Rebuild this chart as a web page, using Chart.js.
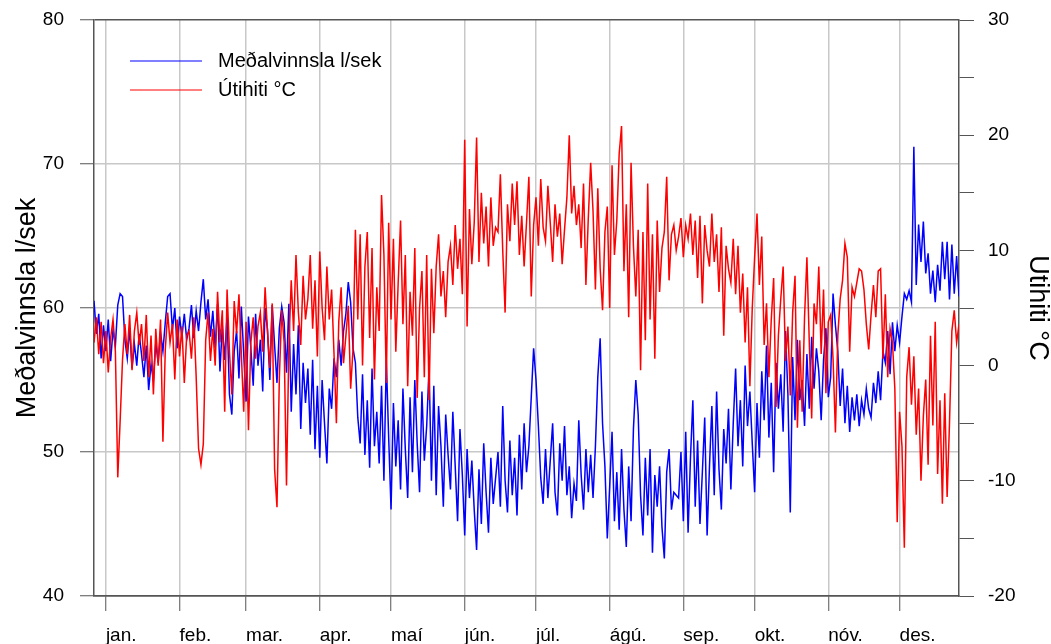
<!DOCTYPE html>
<html>
<head>
<meta charset="utf-8">
<script src="https://cdn.jsdelivr.net/npm/chart.js@4.4.1/dist/chart.umd.min.js"></script>
<style>
  body { margin: 0; background: #fff; }
  #wrap { width: 1051px; height: 644px; }
</style>
</head>
<body>
<div id="wrap"><canvas id="chart" width="1051" height="644"></canvas></div>
<script>
// day numbers (day 0 = 1. jan), one value per day
let firstDay = -5;

let monthStarts = [0, 31, 59, 90, 120, 151, 181, 212, 243, 273, 304, 334];
let monthLabels = ["jan.", "feb.", "mar.", "apr.", "maí", "jún.", "júl.", "ágú.", "sep.", "okt.", "nóv.", "des."];

// Meðalvinnsla l/sek
let flowLps = [
  60.5, 58.2, 59.6, 56.5, 58.8, 57.0, 59.2, 56.3, 58.5, 57.4,
  60.2, 61.0, 60.8, 57.8, 56.5, 58.6, 55.8, 57.5, 56.0, 58.2,
  56.8, 55.2, 57.4, 54.3, 56.1, 55.0, 57.6, 56.2, 58.3, 57.0,
  59.0, 60.8, 61.0, 58.5, 60.0, 57.2, 59.4, 58.0, 59.6, 57.8,
  58.6, 60.2, 57.9, 59.8, 58.4, 60.4, 62.0, 59.2, 60.6, 58.0,
  59.8, 57.2, 60.3, 55.6, 58.8, 56.4, 59.5, 54.0, 52.6, 57.0,
  58.4, 55.1, 60.1, 56.8, 53.5, 59.4, 57.2, 54.6, 59.6, 56.0,
  57.8, 54.2, 60.0, 58.5, 55.0, 60.2, 57.4, 54.8, 58.6, 60.1,
  59.0, 55.5, 60.3, 52.8, 57.5, 54.0, 58.8, 51.6, 56.2, 53.4,
  55.8, 51.2, 56.4, 50.2, 54.6, 49.6, 55.0, 52.0, 49.2, 54.4,
  53.0, 56.5, 55.2, 57.8, 56.0, 58.4, 59.6, 61.8, 60.4, 57.2,
  56.2, 52.4, 50.6, 55.4, 49.8, 53.6, 48.9, 55.8, 50.4, 52.8,
  49.2, 54.6, 48.0, 56.4, 51.0, 46.0, 53.4, 49.0, 52.2, 47.4,
  54.4, 50.2, 46.8, 53.8, 48.6, 55.0, 50.6, 47.2, 54.2, 49.4,
  51.8, 55.9, 48.0, 54.6, 47.0, 53.2, 50.4, 46.2, 52.6, 49.8,
  47.4, 52.8, 49.0, 45.2, 51.6, 48.4, 44.2, 50.2, 46.8, 49.4,
  46.0, 43.2, 48.8, 45.0, 50.6, 47.2, 44.4, 49.6, 46.4, 48.2,
  50.0, 46.2, 53.2, 48.0, 45.8, 50.8, 47.0, 49.6, 45.6, 51.2,
  47.4, 52.0, 48.6, 50.4, 53.8, 57.2, 55.0, 51.8, 48.2, 46.4,
  50.2, 46.8, 49.4, 52.0, 47.2, 45.6, 50.6, 48.0, 51.8, 47.0,
  49.0, 45.4, 47.8, 46.6, 52.2, 48.4, 46.0, 50.2, 47.2, 49.8,
  46.8, 50.4, 55.2, 57.9, 52.0, 49.0, 44.0, 47.6, 51.4, 45.2,
  48.6, 44.6, 50.2, 46.0, 43.4, 49.0, 45.2, 51.6, 55.0, 52.6,
  47.0, 44.2, 49.6, 45.6, 50.2, 43.0, 48.4, 46.2, 49.0, 44.8,
  42.6, 48.6, 50.2, 46.0, 47.2, 47.0, 46.8, 50.0, 45.2, 51.4,
  44.4, 49.6, 53.6, 46.2, 50.8, 45.0, 48.6, 52.4, 44.2, 49.0,
  53.2, 47.0, 54.2, 48.8, 46.0, 51.6, 49.2, 53.0, 47.4, 52.0,
  55.8, 50.4, 53.6, 49.0, 56.0, 51.8, 54.2, 50.6, 47.2, 53.4,
  49.6, 55.6, 52.2, 57.4, 51.0, 54.8, 48.6, 56.2, 53.0, 55.4,
  51.4, 58.4, 54.0, 45.8, 56.6, 52.2, 57.8, 53.6, 55.0, 51.8,
  56.8, 53.0, 58.0, 54.4, 57.2, 55.6, 52.2, 56.4, 58.6, 53.8,
  55.2, 61.0, 58.8, 57.0, 53.2, 55.8, 52.0, 54.6, 51.4, 53.8,
  52.2, 54.0, 51.8, 53.6, 52.6, 54.4, 53.0, 52.4, 54.8, 53.4,
  55.6, 53.6, 57.0, 56.2, 58.4, 55.4, 59.0, 57.0, 58.8, 57.6,
  59.4, 61.0, 60.6, 61.2, 60.4, 71.2, 61.6, 65.8, 63.2, 66.0,
  62.4, 63.8, 61.0, 62.6, 60.4, 63.0, 61.2, 64.6, 62.0, 64.6,
  60.6, 64.4, 61.0, 63.6, 60.8
];

// Útihiti °C
let outdoorTemp = [
  2.0, 4.2, 1.0, 3.8, 0.2, 3.0, -0.6, 2.4, 4.0, 1.2,
  -9.7, -4.8, 0.5, 3.6, 1.0, 4.4, -0.4, 3.0, 4.6, 1.8,
  3.6, 0.4, 4.4, -1.0, 2.6, -2.5, 3.2, 0.0, 4.0, -6.6,
  1.4, 4.6, 2.0, 3.6, -1.2, 4.0, 0.8, 3.4, -1.5, 2.6,
  3.0, 0.6, 4.2, -1.0, -7.2, -8.6, -6.8, 2.2, 4.6, 0.4,
  3.2, 0.0, 6.4, 2.0, 4.8, -4.0, 6.6, 1.2, -2.5, 5.6,
  2.8, 6.2, 1.0, -4.0, 3.8, -5.6, 2.0, 4.2, 0.6, 3.4,
  4.6, 1.2, 6.8, 3.0, -0.2, 5.4, -9.0, -12.3, -1.0, 4.8,
  2.0, -10.4, 1.6, 7.4, 3.0, 9.6, 4.6, 1.8, 7.8, 4.0,
  5.8, 9.6, 3.2, 7.4, 0.8, 9.9, 5.0, 2.2, 8.6, 4.0,
  6.6, 1.0, -5.0, 3.8, 6.8, 0.2, 2.6, 5.2, -2.0, 1.4,
  11.8, 4.0, 11.4, 0.0, 8.6, 11.6, 2.4, 10.2, -1.2, 6.8,
  3.0, 14.8, 9.6, -1.5, 12.4, 4.0, 11.0, 1.2, 7.2, 12.6,
  3.6, 9.6, -1.8, 6.4, 2.6, 10.2, -2.8, 5.0, 8.2, -1.0,
  9.6, -3.0, 8.4, 2.8, 8.6, 11.4, 6.0, 8.2, 4.2, 9.0,
  10.4, 7.0, 12.2, 8.4, 11.0, 6.2, 19.6, 3.4, 13.6, 8.8,
  12.4, 19.8, 9.0, 15.0, 10.6, 13.8, 8.6, 14.6, 10.4, 12.0,
  11.6, 16.6, 10.0, 4.6, 14.0, 10.8, 15.8, 12.2, 16.0, 9.6,
  13.0, 8.6, 12.4, 16.4, 6.0, 12.2, 14.6, 10.4, 16.2, 12.0,
  10.8, 15.6, 12.4, 9.0, 14.0, 11.2, 13.2, 8.8, 11.8, 14.6,
  20.0, 13.2, 15.6, 12.2, 14.0, 10.2, 15.8, 7.0, 12.8, 17.6,
  13.4, 6.6, 15.4, 8.4, 4.8, 11.6, 13.8, 5.0, 17.4, 9.6,
  12.6, 18.4, 20.8, 8.2, 14.0, 4.2, 17.6, 10.4, 6.0, 11.8,
  -0.4, 11.6, 2.2, 15.8, 4.0, 11.4, 0.6, 12.6, 6.4, 10.2,
  11.6, 16.4, 7.4, 11.4, 12.2, 10.0, 11.2, 12.8, 9.4, 12.2,
  11.0, 13.2, 9.6, 12.6, 7.6, 13.0, 5.4, 12.2, 10.0, 8.6,
  13.2, 9.0, 11.4, 6.4, 12.0, 2.6, 10.4, 8.4, 7.2, 11.0,
  6.2, 10.4, 4.6, 8.0, 2.0, 6.8, -1.8, 5.0, 9.4, 13.2,
  7.0, 11.2, 1.8, 5.4, -1.0, 4.0, 7.6, -3.6, 2.6, 5.8,
  8.6, 0.4, 3.4, -2.6, 4.6, 7.8, -5.4, 2.2, -4.0, 4.2,
  9.4, 2.0, -4.6, 5.4, 3.6, 8.6, 1.0, 6.6, -2.4, 3.8,
  4.4, 0.6, -5.8, 2.6, 5.8, 7.4, 10.6, 9.4, 1.2, 6.8,
  6.0, 7.2, 8.4, 8.2, 6.6, 3.6, 1.4, 4.4, 7.0, 4.2,
  8.2, 8.4, 0.6, 6.2, -1.0, 3.2, 2.0, -2.0, -13.6, -4.0,
  -7.0, -15.8, -1.0, 1.6, -3.4, 0.8, -6.0, -2.0, -10.0, -4.4,
  -1.2, -8.6, 2.6, -5.2, 3.8, -9.4, -3.0, -12.0, -2.4, -11.4,
  -5.0, 3.0, 4.8, 2.0, 3.6
];

let DARK = "#555555";
let LIGHT = "#c8c8c8";
let FONT = "'Liberation Sans', Arial, sans-serif";

function toPoints(values) {
  return values.map((v, i) => ({ x: firstDay + i, y: v }));
}

// fixed axis sizes so the plot area lands where the original has it
function fixSize(prop, size) {
  return (s) => {
    s[prop] = size;
    s.paddingTop = 0;
    s.paddingBottom = 0;
    s.paddingLeft = 0;
    s.paddingRight = 0;
  };
}

// legend drawn inside the plot, top left
let insideLegend = {
  id: "insideLegend",
  afterDraw(chart) {
    let ctx = chart.ctx;
    let items = [chart.data.datasets[1], chart.data.datasets[0]];
    ctx.save();
    ctx.font = "20px " + FONT;
    ctx.textBaseline = "middle";
    ctx.textAlign = "left";
    items.forEach((ds, i) => {
      let y = 61 + i * 29;
      ctx.strokeStyle = ds.borderColor;
      ctx.lineWidth = 1;
      ctx.beginPath();
      ctx.moveTo(130, y);
      ctx.lineTo(202, y);
      ctx.stroke();
      ctx.fillStyle = "#000";
      ctx.fillText(ds.label, 218, y);
    });
    ctx.restore();
  },
};

let chart = new Chart(document.getElementById("chart"), {
  type: "line",
  data: {
    datasets: [
      {
        label: "Útihiti °C",
        data: toPoints(outdoorTemp),
        yAxisID: "y1",
        borderColor: "rgb(255, 0, 0)",
        borderWidth: 1.5,
        pointRadius: 0,
        tension: 0,
        order: 0,
      },
      {
        label: "Meðalvinnsla l/sek",
        data: toPoints(flowLps),
        yAxisID: "y",
        borderColor: "rgb(0, 0, 255)",
        borderWidth: 1.5,
        pointRadius: 0,
        tension: 0,
        order: 1,
      },
    ],
  },
  options: {
    responsive: false,
    animation: false,
    devicePixelRatio: 1,
    layout: { padding: { top: 20, left: 0, right: 0, bottom: 0 } },
    plugins: {
      legend: { display: false },
      tooltip: { enabled: false },
    },
    scales: {
      x: {
        type: "linear",
        min: firstDay,
        max: firstDay + flowLps.length - 1,
        afterBuildTicks: (s) => {
          s.ticks = monthStarts.map((v) => ({ value: v }));
        },
        afterFit: fixSize("height", 48),
        grid: { color: LIGHT, lineWidth: 1.5, tickColor: DARK, tickLength: 15, tickWidth: 1 },
        border: { color: DARK, width: 1.5 },
        ticks: {
          autoSkip: false,
          maxRotation: 0,
          align: "start",
          padding: 13,
          color: "#000",
          font: { family: FONT, size: 19 },
          callback: (v, i) => monthLabels[i],
        },
      },
      y: {
        position: "left",
        min: 40,
        max: 80,
        afterFit: fixSize("width", 94),
        grid: {
          color: (c) => (c.tick && (c.tick.value === 80 || c.tick.value === 40) ? DARK : LIGHT),
          lineWidth: 1.5,
          tickColor: DARK,
          tickLength: 14,
          tickWidth: 1,
        },
        border: { color: DARK, width: 1.5 },
        ticks: {
          stepSize: 10,
          padding: 16,
          color: "#000",
          font: { family: FONT, size: 19 },
        },
        title: {
          display: true,
          text: "Meðalvinnsla l/sek",
          color: "#000",
          font: { family: FONT, size: 27, lineHeight: 1 },
          padding: { top: 14, bottom: 0 },
        },
      },
      y1: {
        position: "right",
        min: -20,
        max: 30,
        afterFit: fixSize("width", 92),
        grid: { drawOnChartArea: false, tickColor: DARK, tickLength: 15, tickWidth: 1 },
        border: { color: DARK, width: 1.5 },
        ticks: {
          stepSize: 5,
          padding: 14,
          color: "#000",
          font: { family: FONT, size: 19 },
          callback: (v) => (v % 10 === 0 ? v : ""),
        },
        title: {
          display: true,
          text: "Útihiti °C",
          color: "#000",
          font: { family: FONT, size: 27, lineHeight: 1 },
          padding: { top: 0, bottom: 0 },
        },
      },
    },
  },
  plugins: [insideLegend],
});
</script>
</body>
</html>
